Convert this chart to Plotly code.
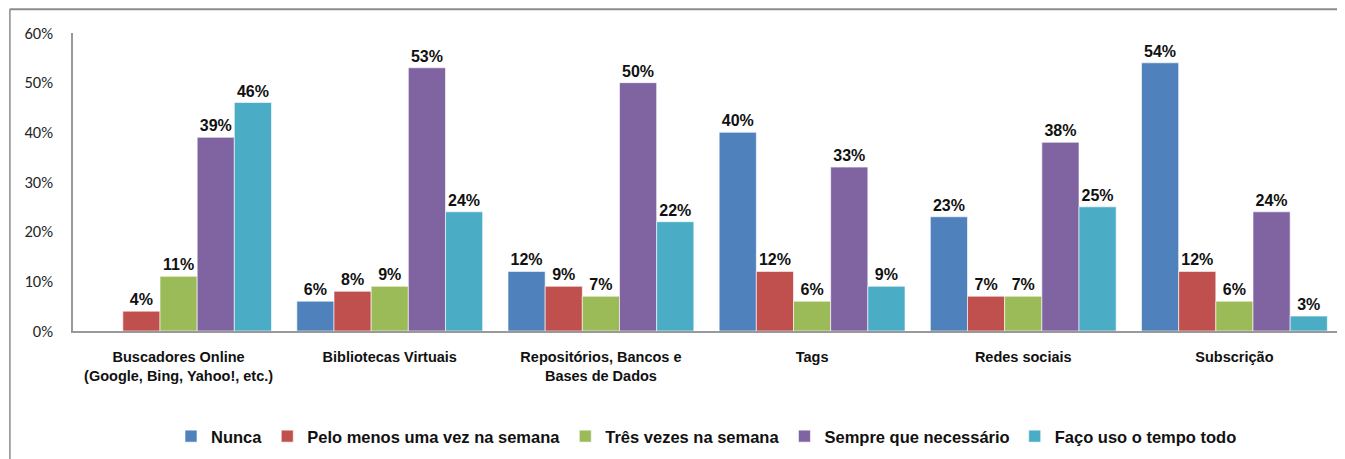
import plotly.graph_objects as go

categories = [
    "Buscadores Online<br>(Google, Bing, Yahoo!, etc.)",
    "Bibliotecas Virtuais",
    "Repositórios, Bancos e<br>Bases de Dados",
    "Tags",
    "Redes sociais",
    "Subscrição",
]
series_names = [
    "Nunca",
    "Pelo menos uma vez na semana",
    "Três vezes na semana",
    "Sempre que necessário",
    "Faço uso o tempo todo",
]
nunca = [0, 6, 12, 40, 23, 54]
pelo_menos = [4, 8, 9, 12, 7, 12]
tres_vezes = [11, 9, 7, 6, 7, 6]
sempre = [39, 53, 50, 33, 38, 24]
faco_uso = [46, 24, 22, 9, 25, 3]
y_ticks = [0, 10, 20, 30, 40, 50, 60]

values = [nunca, pelo_menos, tres_vezes, sempre, faco_uso]
colors = ["#4F81BD", "#C0504D", "#9BBB59", "#8064A2", "#4BACC6"]

narrow = "Liberation Sans Narrow, Arial Narrow, Liberation Sans, Arial"

fig = go.Figure()
for name, vals, col in zip(series_names, values, colors):
    fig.add_trace(go.Bar(
        name=name,
        x=categories,
        y=vals,
        marker=dict(color=col, line=dict(color="rgba(255,255,255,0.6)", width=1)),
        text=[f"{v}%" if v > 0 else "" for v in vals],
        textposition="outside",
        textfont=dict(family=narrow, size=16, color="#111111", weight="bold"),
        cliponaxis=False,
        hoverinfo="skip",
    ))

# page body has an 8px margin: figure is sized/offset to compensate
fig.update_layout(
    width=1337,
    height=451,
    margin=dict(l=65, r=5, t=25, b=126),
    barmode="group",
    bargap=0.12,
    bargroupgap=0,
    plot_bgcolor="white",
    paper_bgcolor="white",
    showlegend=True,
    legend=dict(
        orientation="h",
        x=0.5, xanchor="center",
        y=-0.295, yanchor="top",
        font=dict(family=narrow, size=16.5, color="#111111", weight="bold"),
        itemwidth=30,
        tracegroupgap=0,
    ),
    xaxis=dict(
        showline=True, linecolor="#999999", linewidth=1.5,
        showgrid=False, ticks="",
        ticklabelstandoff=12,
        tickfont=dict(family=narrow, size=14.5, color="#111111", weight="bold"),
    ),
    yaxis=dict(
        range=[0, 60],
        tickvals=y_ticks,
        ticktext=[f"{v}%" for v in y_ticks],
        showline=True, linecolor="#999999", linewidth=1.5,
        showgrid=False, ticks="", zeroline=False,
        ticklabelstandoff=15,
        tickfont=dict(family="Carlito, Calibri, Liberation Sans, Arial", size=16.5, color="#262626"),
    ),
    shapes=[
        dict(type="line", xref="paper", yref="paper", x0=-0.05, x1=1.01,
             y0=1.08, y1=1.08, line=dict(color="#8c8c8c", width=2)),
        dict(type="line", xref="paper", yref="paper", x0=-0.0498, x1=-0.0498,
             y0=1.08, y1=-0.5, line=dict(color="#8c8c8c", width=1.5)),
    ],
)

fig.write_html("out.html")
